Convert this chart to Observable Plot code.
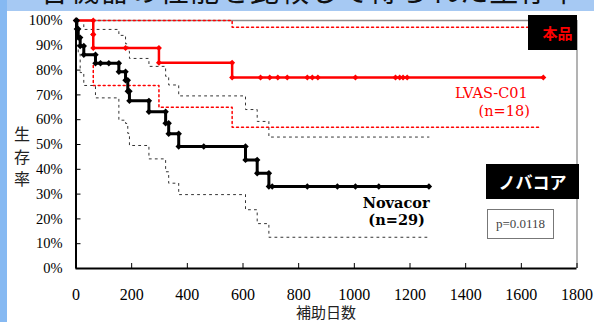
<!DOCTYPE html>
<html><head><meta charset="utf-8">
<script src="https://cdn.jsdelivr.net/npm/d3@7"></script>
<script src="https://cdn.jsdelivr.net/npm/@observablehq/plot@0.6"></script>
<style>
html,body{margin:0;padding:0;background:#fff;}
#wrap{position:relative;width:594px;height:322px;overflow:hidden;background:#fff;}
#chart{position:absolute;left:0;top:0;}
.strip-top{position:absolute;left:0;top:0;width:594px;height:11px;background:#a6c9f3;overflow:hidden;z-index:2}
.strip-top span{position:absolute;left:40px;top:-25px;font-size:29px;line-height:1;font-family:"Noto Sans CJK JP";color:#111;white-space:nowrap;letter-spacing:1px}
.strip-left{position:absolute;left:0;top:0;width:7px;height:322px;background:#86b9f2;z-index:3}
.box{position:absolute;display:flex;align-items:center;justify-content:center;box-sizing:border-box;z-index:2}
#b1{left:528px;top:15px;width:49px;height:35px;background:#000;color:#ff0000;font:bold 15px "Noto Sans CJK JP";padding-left:10px}
#b2{left:486px;top:164px;width:93px;height:35px;background:#000;color:#fff;font:bold 17px "Noto Sans CJK JP";}
#b3{left:487px;top:209px;width:67px;height:30px;background:#fff;border:1px solid #777;color:#444;font:13px "Liberation Serif";}
#ylab{position:absolute;left:10px;top:126px;writing-mode:vertical-rl;font:16px "Noto Sans CJK JP";letter-spacing:6.5px;color:#222;z-index:2}
#xlab{position:absolute;left:0;width:652px;top:304px;text-align:center;font:15px "Noto Sans CJK JP";color:#222;z-index:2;line-height:16px}
</style>
</head><body>
<div id="wrap">
  <div id="chart"></div>
  <div class="strip-top"><span>各機器の性能を比較して得られた生存率</span></div>
  <div class="strip-left"></div>
  <div class="box" id="b1">本品</div>
  <div class="box" id="b2">ノバコア</div>
  <div class="box" id="b3">p=0.0118</div>
  <div id="ylab">生存率</div>
  <div id="xlab">補助日数</div>
</div>
<script>
// ---- data ----
const xTicks = [0, 200, 400, 600, 800, 1000, 1200, 1400, 1600, 1800];
const yTicks = [0, 10, 20, 30, 40, 50, 60, 70, 80, 90, 100];

// Novacor (n=29)
const novacorEventDays = [3, 8, 15, 28, 70, 154, 178, 186, 192, 262, 322, 333, 369, 609, 651, 693];
const novacorEventSurv = [96.6, 93.1, 89.7, 86.2, 82.8, 79.3, 75.9, 71.5, 67.6, 63.2, 58.6, 54.3, 49.2, 43.8, 38.4, 33.1];
const novacorCensorDays = [88, 118, 459, 705, 831, 939, 1004, 1088, 1268];
const novacorUpperDays = [0, 28, 154, 178, 186, 192, 262, 322, 333, 369, 609, 651, 693, 1268];
const novacorUpper = [100, 96.4, 94.0, 90.6, 87.6, 84.7, 81.5, 77.5, 74.0, 69.6, 64.1, 59.3, 53.0, 53.0];
const novacorLowerDays = [3, 8, 15, 28, 70, 154, 178, 186, 192, 262, 322, 333, 369, 609, 651, 693, 1268];
const novacorLower = [90.0, 86.5, 79.0, 73.8, 68.8, 59.8, 58.5, 54.5, 49.6, 44.2, 39.0, 34.4, 29.8, 23.7, 18.1, 12.6, 12.6];

// LVAS-C01 (n=18)
const lvasEventDays = [62, 62, 298, 561];
const lvasEventSurv = [94.4, 88.9, 83.0, 77.0];
const lvasCensorDays = [178, 663, 696, 725, 759, 831, 849, 869, 1004, 1148, 1163, 1175, 1190, 1679];
const lvasUpperDays = [62, 561, 1665];
const lvasUpper = [100, 97.3, 97.3];
const lvasLowerDays = [62, 62, 298, 561, 1665];
const lvasLower = [81.9, 73.8, 65.0, 57.0, 57.0];

// ---- build step data ----
function km(eventDays, eventSurv, censorDays) {
  const level = d => { let s = 100; eventDays.forEach((e, i) => { if (e <= d) s = eventSurv[i]; }); return s; };
  const pts = [{day: 0, s: 100}];
  eventDays.forEach((d, i) => pts.push({day: d, s: eventSurv[i]}));
  censorDays.forEach(d => pts.push({day: d, s: level(d)}));
  pts.sort((a, b) => a.day - b.day || b.s - a.s);
  const marks = [{day: 0, s: 100}];
  eventDays.forEach((d, i) => { marks.push({day: d, s: i ? eventSurv[i - 1] : 100}); marks.push({day: d, s: eventSurv[i]}); });
  censorDays.forEach(d => marks.push({day: d, s: level(d)}));
  return {pts, marks, last: pts[pts.length - 1]};
}
const zip = (xs, ys) => xs.map((d, i) => ({day: d, s: ys[i]}));

const nov = km(novacorEventDays, novacorEventSurv, novacorCensorDays);
const lvas = km(lvasEventDays, lvasEventSurv, lvasCensorDays);

const chart = Plot.plot({
  width: 594, height: 322,
  marginLeft: 75.5, marginRight: 17.5, marginTop: 20, marginBottom: 54,
  style: {background: "transparent", fontFamily: "'Liberation Serif', serif", color: "#111"},
  x: {domain: [0, 1800]},
  y: {domain: [0, 100]},
  marks: [
    Plot.ruleY([100], {stroke: "#8a8a8a", strokeWidth: 1.5}),
    Plot.ruleX([1800], {stroke: "#9a9a9a", strokeWidth: 1.5}),
    Plot.axisX({ticks: xTicks, tickSize: -5, tickPadding: 25, tickFormat: d => String(d), label: null, fontSize: 16, color: "#000"}),
    Plot.axisY({ticks: yTicks, tickSize: -5, tickPadding: 18.5, tickFormat: d => d + "%", label: null, fontSize: 14.5, color: "#000"}),
    // confidence bands
    Plot.line(zip(novacorUpperDays, novacorUpper), {x: "day", y: "s", curve: "step-after", stroke: "#333", strokeWidth: 1, strokeDasharray: "2,4"}),
    Plot.line(zip(novacorLowerDays, novacorLower), {x: "day", y: "s", curve: "step-after", stroke: "#333", strokeWidth: 1, strokeDasharray: "2,4"}),
    Plot.line(zip(lvasUpperDays, lvasUpper), {x: "day", y: "s", curve: "step-after", stroke: "#ff0000", strokeWidth: 1.5, strokeDasharray: "2,3"}),
    Plot.line(zip(lvasLowerDays, lvasLower), {x: "day", y: "s", curve: "step-after", stroke: "#ff0000", strokeWidth: 1.5, strokeDasharray: "2,3"}),
    // KM curves
    Plot.line(lvas.pts, {x: "day", y: "s", curve: "step-after", stroke: "#ff0000", strokeWidth: 2.5}),
    Plot.line(nov.pts, {x: "day", y: "s", curve: "step-after", stroke: "#000", strokeWidth: 3}),
    Plot.dot(lvas.marks, {x: "day", y: "s", symbol: "diamond2", r: 2.7, fill: "#ff0000"}),
    Plot.dot(nov.marks, {x: "day", y: "s", symbol: "diamond2", r: 2.9, fill: "#000"}),
    Plot.ruleX([0], {stroke: "#000", strokeWidth: 2}),
    Plot.ruleY([0], {stroke: "#000", strokeWidth: 2}),
    // series labels
    Plot.text([nov.last], {x: "day", y: "s", text: () => "Novacor", textAnchor: "end", dx: 0.6, dy: 16.6, fontSize: 14.5, fontWeight: "bold", fontFamily: "'DejaVu Serif', serif", fill: "#000"}),
    Plot.text([nov.last], {x: "day", y: "s", text: () => "(n=29)", textAnchor: "end", dx: -4, dy: 34, fontSize: 14.5, fontWeight: "bold", fontFamily: "'DejaVu Serif', serif", fill: "#000"}),
    Plot.text([lvas.last], {x: "day", y: "s", text: () => "LVAS-C01", textAnchor: "end", dx: -15.5, dy: 16.3, fontSize: 14.5, fontFamily: "'DejaVu Serif', serif", fill: "#ff0000"}),
    Plot.text([lvas.last], {x: "day", y: "s", text: () => "(n=18)", textAnchor: "end", dx: -13.5, dy: 34, fontSize: 14.5, fontFamily: "'DejaVu Serif', serif", fill: "#ff0000"})
  ]
});
document.getElementById("chart").appendChild(chart);
</script>
</body></html>
